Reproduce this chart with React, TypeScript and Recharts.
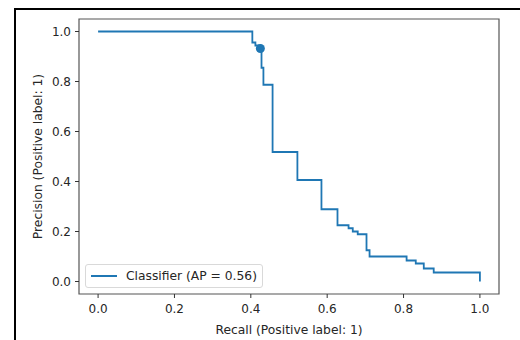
import {
  ComposedChart,
  Line,
  Scatter,
  XAxis,
  YAxis,
  ReferenceArea,
} from "recharts";

// step points (recall ascending), drawn with stepAfter
const recall = [
  0, 0.404, 0.412, 0.425, 0.428, 0.433, 0.457, 0.522, 0.585, 0.627, 0.656,
  0.667, 0.68, 0.703, 0.711, 0.808, 0.832, 0.853, 0.879, 1.0,
];
const precision = [
  1.0, 0.956, 0.944, 0.932, 0.855, 0.787, 0.518, 0.406, 0.289, 0.225, 0.213,
  0.2, 0.189, 0.125, 0.1, 0.084, 0.072, 0.052, 0.036, 0.0,
];
const markRecall = [0.425];
const markPrecision = [0.932];

const ticks = [0, 0.2, 0.4, 0.6, 0.8, 1.0];
const seriesName = "Classifier (AP = 0.56)";
const xLabel = "Recall (Positive label: 1)";
const yLabel = "Precision (Positive label: 1)";

const curve = recall.map((r, i) => ({ recall: r, precision: precision[i] }));
const mark = markRecall.map((r, i) => ({ recall: r, precision: markPrecision[i] }));

const BLUE = "#1f77b4";
const FONT = "DejaVu Sans, sans-serif";
const TXT = "#262626";

export default function App() {
  return (
    <div
      style={{
        position: "absolute",
        left: 0,
        top: 0,
        width: 520,
        height: 340,
        background: "#fff",
        overflow: "hidden",
        fontFamily: FONT,
      }}
    >
      <div
        style={{
          position: "absolute",
          left: 14,
          top: 8,
          width: 520,
          height: 340,
          borderLeft: "2px solid #000",
          borderTop: "2px solid #000",
        }}
      />
      <div style={{ position: "absolute", left: 0, top: 0 }}>
        <ComposedChart
          width={520}
          height={340}
          margin={{ top: 19, right: 21, bottom: 16, left: 39 }}
        >
          <XAxis
            type="number"
            dataKey="recall"
            domain={[-0.05, 1.05]}
            allowDataOverflow
            ticks={ticks}
            tickFormatter={(v: number) => v.toFixed(1)}
            height={30}
            axisLine={false}
            tickSize={4}
            tickMargin={6}
            tickLine={{ stroke: "#333" }}
            tick={{ fontSize: 12, fill: TXT, fontFamily: FONT }}
            label={{
              value: xLabel,
              position: "insideBottom",
              offset: -10,
              fontSize: 12.3,
              fill: TXT,
              fontFamily: FONT,
            }}
          />
          <YAxis
            type="number"
            dataKey="precision"
            domain={[-0.05, 1.05]}
            allowDataOverflow
            ticks={ticks}
            tickFormatter={(v: number) => v.toFixed(1)}
            width={40}
            axisLine={false}
            tickSize={4}
            tickMargin={4}
            tickLine={{ stroke: "#333" }}
            tick={{ fontSize: 12, fill: TXT, fontFamily: FONT }}
            label={({ viewBox }: any) => {
              const cy = viewBox.y + viewBox.height / 2;
              return (
                <text
                  x={42}
                  y={cy}
                  transform={`rotate(-90 42 ${cy})`}
                  textAnchor="middle"
                  fontSize={12.3}
                  fill={TXT}
                  fontFamily={FONT}
                >
                  {yLabel}
                </text>
              );
            }}
          />
          <ReferenceArea
            x1={-0.05}
            x2={1.05}
            y1={-0.05}
            y2={1.05}
            fill="none"
            stroke="#555"
            strokeWidth={1.2}
            ifOverflow="visible"
          />
          <Line
            data={curve}
            dataKey="precision"
            type="stepAfter"
            stroke={BLUE}
            strokeWidth={1.8}
            dot={false}
            isAnimationActive={false}
          />
          <Scatter
            data={mark}
            dataKey="precision"
            fill={BLUE}
            isAnimationActive={false}
          />
        </ComposedChart>
      </div>
      <div
        style={{
          position: "absolute",
          left: 85,
          top: 264,
          width: 176,
          height: 22,
          border: "1px solid #d9d9d9",
          borderRadius: 3,
          background: "rgba(255,255,255,0.8)",
          display: "flex",
          alignItems: "center",
        }}
      >
        <div
          style={{
            marginLeft: 5,
            width: 26,
            height: 2,
            background: BLUE,
          }}
        />
        <span
          style={{
            marginLeft: 9,
            fontSize: 12.3,
            color: TXT,
            whiteSpace: "nowrap",
          }}
        >
          {seriesName}
        </span>
      </div>
    </div>
  );
}
